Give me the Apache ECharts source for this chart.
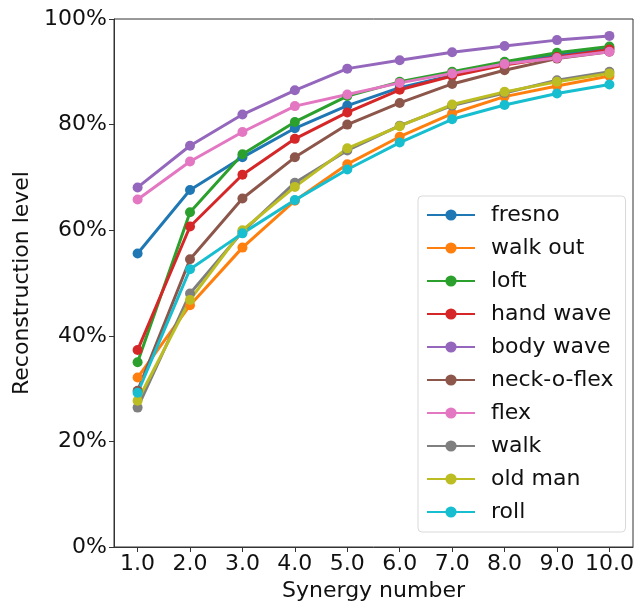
<!DOCTYPE html>
<html>
<head>
<meta charset="utf-8">
<script src="https://cdn.jsdelivr.net/npm/echarts@6/dist/echarts.min.js"></script>
<style>
  html, body { margin: 0; padding: 0; background: #fff; }
  #chart { width: 639px; height: 604px; }
</style>
</head>
<body>
<div id="chart"></div>
<script>
const synergies = [1, 2, 3, 4, 5, 6, 7, 8, 9, 10]
const names = ['fresno', 'walk out', 'loft', 'hand wave', 'body wave', 'neck-o-flex', 'flex', 'walk', 'old man', 'roll']
const colors = ['#1f77b4', '#ff7f0e', '#2ca02c', '#d62728', '#9467bd', '#8c564b', '#e377c2', '#7f7f7f', '#bcbd22', '#17becf']

const fresno = [55.6, 67.6, 73.8, 79.3, 83.6, 87.0, 89.3, 91.5, 93.2, 94.5]
const walkOut = [32.1, 45.8, 56.7, 65.6, 72.5, 77.7, 82.1, 85.3, 87.3, 89.2]
const loft = [35.0, 63.4, 74.4, 80.5, 85.4, 88.1, 90.0, 91.9, 93.6, 94.8]
const handWave = [37.3, 60.7, 70.5, 77.3, 82.3, 86.6, 89.2, 91.3, 92.8, 94.2]
const bodyWave = [68.1, 76.0, 81.9, 86.5, 90.6, 92.2, 93.7, 94.9, 96.0, 96.8]
const neckOFlex = [29.6, 54.5, 66.0, 73.8, 80.0, 84.1, 87.7, 90.3, 92.5, 93.8]
const flex = [65.8, 73.0, 78.6, 83.5, 85.7, 87.9, 89.7, 91.5, 92.6, 93.8]
const walk = [26.4, 48.0, 59.7, 69.0, 75.1, 79.8, 83.6, 86.0, 88.4, 90.0]
const oldMan = [27.7, 46.8, 60.0, 68.2, 75.5, 79.7, 83.8, 86.2, 88.1, 89.7]
const roll = [29.2, 52.6, 59.4, 65.7, 71.5, 76.6, 81.0, 83.7, 85.9, 87.6]

const allSeries = [fresno, walkOut, loft, handWave, bodyWave, neckOFlex, flex, walk, oldMan, roll]
const yTicks = [0, 20, 40, 60, 80, 100]

const font = 'DejaVu Sans'

const chart = echarts.init(document.getElementById('chart'))
chart.setOption({
    animation: false,
    color: colors,
    grid: {
        left: 114, top: 19, right: 6, bottom: 57,
        outerBoundsMode: 'none',
        containLabel: false,
        show: true, borderColor: '#333', borderWidth: 1
    },
    legend: {
        orient: 'vertical',
        left: 418, top: 196,
        padding: [8, 12, 9, 8],
        itemGap: 11,
        itemWidth: 48,
        itemHeight: 14,
        backgroundColor: '#fff',
        borderColor: '#d9d9d9',
        borderWidth: 1,
        borderRadius: 4,
        data: names,
        textStyle: { fontFamily: font, fontSize: 22, color: '#111', lineHeight: 22, padding: [0, 0, 0, 11] }
    },
    xAxis: {
        type: 'value',
        min: 0.55, max: 10.45,
        name: 'Synergy number',
        nameLocation: 'middle',
        nameGap: 25,
        nameTextStyle: { fontFamily: font, fontSize: 22, color: '#111' },
        splitLine: { show: false },
        axisLine: { lineStyle: { color: '#333' } },
        axisTick: { show: true, customValues: synergies, length: 5, lineStyle: { color: '#333' } },
        axisLabel: {
            customValues: synergies,
            formatter: v => v.toFixed(1),
            fontFamily: font, fontSize: 22, color: '#111', margin: 6
        }
    },
    yAxis: {
        type: 'value',
        min: 0, max: 100, interval: 20,
        name: 'Reconstruction level',
        nameLocation: 'middle',
        nameGap: 80,
        nameTextStyle: { fontFamily: font, fontSize: 22, color: '#111' },
        splitLine: { show: false },
        axisLine: { show: true, lineStyle: { color: '#333' } },
        axisTick: { show: true, length: 5, lineStyle: { color: '#333' } },
        axisLabel: {
            customValues: yTicks,
            formatter: '{value}%',
            fontFamily: font, fontSize: 22, color: '#111', margin: 7
        }
    },
    series: allSeries.map((vals, i) => ({
        name: names[i],
        type: 'line',
        data: synergies.map((x, j) => [x, vals[j]]),
        symbol: 'circle',
        symbolSize: 10,
        lineStyle: { width: 3 },
        itemStyle: { color: colors[i] },
        emphasis: { disabled: true }
    }))
})
</script>
</body>
</html>
